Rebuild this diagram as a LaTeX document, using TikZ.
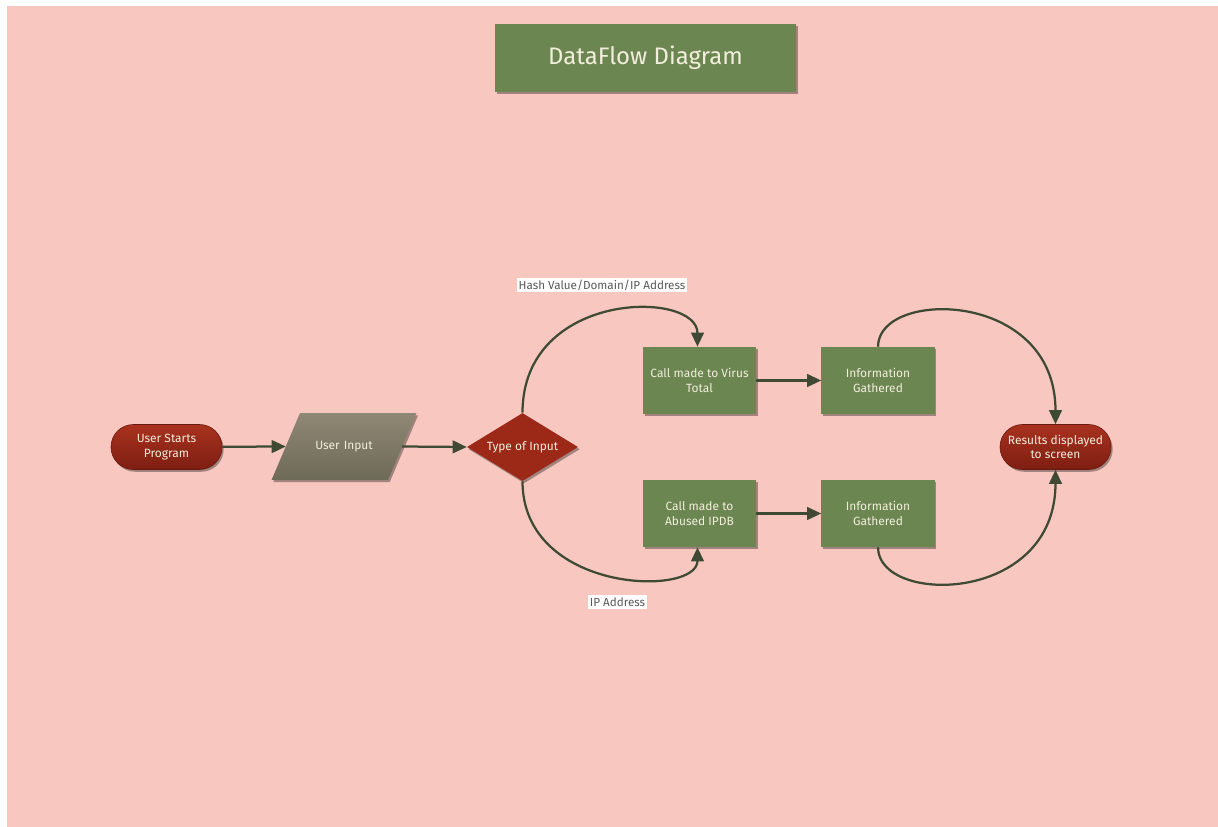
\documentclass[tikz,border=0pt]{standalone}
\usepackage{fontspec}
\setmainfont{Fira Sans}
\usetikzlibrary{arrows.meta,shapes.geometric,shadows}

\definecolor{bgpink}{HTML}{F8C8C0}
\definecolor{boxgreen}{HTML}{6C8652}
\definecolor{pilltop}{HTML}{A8321E}
\definecolor{pillbot}{HTML}{7E1E12}
\definecolor{inputtop}{HTML}{8E8874}
\definecolor{inputbot}{HTML}{6E6A58}
\definecolor{diamred}{HTML}{9C2818}
\definecolor{linegreen}{HTML}{3E4A33}
\definecolor{boxtext}{HTML}{F2EEDC}
\definecolor{labeltext}{HTML}{5A5A5A}

\begin{document}
\begin{tikzpicture}[
	x=0.025cm, y=-0.025cm,
	boxshadow/.style={
		drop shadow={shadow xshift=1.2pt, shadow yshift=-1.6pt, opacity=.35, fill=black}
	},
	nodetext/.style={
		text=boxtext, align=center, font=\fontsize{8.5}{10.5}\selectfont
	},
	procbox/.style={
		rectangle, fill=boxgreen, nodetext, boxshadow,
		minimum width=2.825cm, minimum height=1.675cm
	},
	pill/.style={
		rectangle, rounded corners=0.56cm, top color=pilltop, bottom color=pillbot,
		draw=pillbot!80!black, nodetext, boxshadow,
		minimum width=2.775cm, minimum height=1.125cm
	},
	edgelabel/.style={
		fill=white, text=labeltext, inner sep=1.5pt,
		font=\fontsize{8.3}{10}\selectfont
	},
	flow/.style={
		-{Triangle[length=10pt,width=9pt]}, line width=1.6pt, draw=linegreen
	}
]
% page and background
\fill[white] (0,0) rectangle (1218,827);
\fill[bgpink] (7,6) rectangle (1218,827);
\useasboundingbox (0,0) rectangle (1218,827);

% title
\node[procbox, minimum width=7.525cm, minimum height=1.7cm,
	font=\fontsize{17}{20}\selectfont] (title) at (645.5,58) {DataFlow Diagram};

% shapes
\node[pill] (start) at (166.5,447) {User Starts\\Program};
\node[trapezium, trapezium left angle=67, trapezium right angle=113,
	text width=2.2cm, text height=6pt, text depth=2pt,
	inner xsep=0pt, inner ysep=19.8pt, outer sep=0pt,
	top color=inputtop, bottom color=inputbot, nodetext, boxshadow] (uin) at (344,446.5) {User Input};
\node[diamond, shape aspect=1.63, fill=diamred, inner sep=0pt, minimum width=2.775cm,
	minimum height=1.7cm, nodetext, boxshadow] (type) at (522.5,447) {Type of Input};
\node[procbox] (vt) at (699.5,380.5) {Call made to Virus\\Total};
\node[procbox] (infoa) at (878,380.5) {Information\\Gathered};
\node[procbox] (abuse) at (699.5,513.5) {Call made to\\Abused IPDB};
\node[procbox] (infob) at (878,513.5) {Information\\Gathered};
\node[pill] (result) at (1055.5,447) {Results displayed\\to screen};

% labels
\node[edgelabel] (lblhash) at (602,285) {Hash Value/Domain/IP Address};
\node[edgelabel] (lblip) at (617.5,602) {IP Address};

% connectors
\draw[flow] (start) -- (uin.west);
\draw[flow] (uin.east) -- (type.west);
\draw[flow] (type.north) .. controls +(0,-123) and +(0,-57) .. ([xshift=-0.05cm]vt.north);
\draw[flow] (type.south) .. controls +(0,112) and +(0,50) .. ([xshift=-0.05cm]abuse.south);
\draw[flow] (vt) -- (infoa);
\draw[flow] (abuse) -- (infob);
\draw[flow] (infoa.north) .. controls +(0,-58) and +(0,-135) .. (result.north);
\draw[flow] (infob.south) .. controls +(0,58) and +(0,135) .. (result.south);
\end{tikzpicture}
\end{document}
